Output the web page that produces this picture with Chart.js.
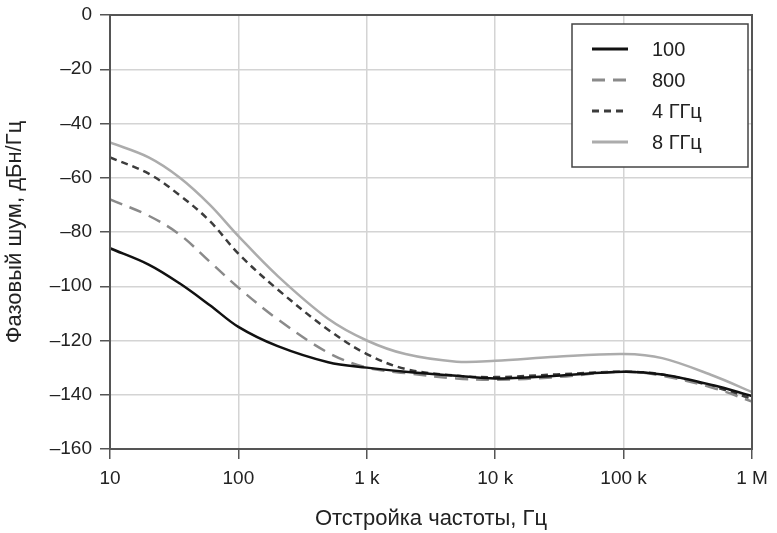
<!DOCTYPE html>
<html>
<head>
<meta charset="utf-8">
<script src="https://cdn.jsdelivr.net/npm/chart.js@4.4.0/dist/chart.umd.min.js"></script>
<style>
html, body { margin: 0; padding: 0; background: #fff; }
</style>
</head>
<body>
<canvas id="noiseChart" width="777" height="533"></canvas>
<script>
// offset frequencies, Hz
var freqs = [10, 20, 35, 60, 100, 200, 500, 1000, 2000, 5000, 10000, 30000, 100000, 200000, 500000, 1000000];
// phase noise, dBc/Hz
var noise100 = [-86, -92, -99, -107, -115, -122, -128, -130, -131.5, -133, -134, -133, -131.5, -132.5, -136.5, -140.5];
var noise800 = [-68, -74, -81, -91, -100.5, -112, -124.5, -130, -132, -134, -134.5, -133.5, -131.5, -133, -137.5, -142.5];
var noise4G = [-52.5, -58.5, -66.5, -76, -88, -101, -116, -125, -130.5, -133, -133.5, -132.5, -131.5, -132.5, -137, -141.5];
var noise8G = [-47, -52.5, -60, -70, -81.5, -96, -112, -120, -125, -127.8, -127.5, -126, -125, -126.5, -133, -139];

var seriesNames = ['100', '800', '4 ГГц', '8 ГГц'];
var xTickValues = [10, 100, 1000, 10000, 100000, 1000000];
var xTickLabels = ['10', '100', '1 k', '10 k', '100 k', '1 M'];

var FONT = '"Liberation Sans", Arial, sans-serif';

function points(vals){
    return freqs.map(function(f, i){ return {x: f, y: vals[i]}; });
}

// frame around the plot area + boxed legend
var framePlugin = {
    id: 'frame',
    afterDraw: function(chart){
        var ctx = chart.ctx, a = chart.chartArea;
        ctx.save();
        ctx.strokeStyle = '#555';
        ctx.lineWidth = 2;
        ctx.strokeRect(a.left, a.top, a.right - a.left, a.bottom - a.top);

        // legend
        var bx = a.right - 180, by = a.top + 9, bw = 176, bh = 143;
        ctx.fillStyle = '#fff';
        ctx.fillRect(bx, by, bw, bh);
        ctx.strokeStyle = '#444';
        ctx.lineWidth = 1.5;
        ctx.strokeRect(bx, by, bw, bh);
        ctx.font = '20px ' + FONT;
        ctx.textBaseline = 'middle';
        chart.data.datasets.forEach(function(ds, i){
            var y = by + 25 + i * 31;
            ctx.beginPath();
            ctx.setLineDash(ds.borderDash || []);
            ctx.strokeStyle = ds.borderColor;
            ctx.lineWidth = 3;
            ctx.moveTo(bx + 20, y);
            ctx.lineTo(bx + 56, y);
            ctx.stroke();
            ctx.setLineDash([]);
            ctx.fillStyle = '#222';
            ctx.fillText(ds.label, bx + 80, y + 1);
        });
        ctx.restore();
    }
};

var ctx = document.getElementById('noiseChart').getContext('2d');
var chart = new Chart(ctx, {
    type: 'line',
    data: {
        datasets: [
            { label: seriesNames[0], data: points(noise100), borderColor: '#111', borderWidth: 2.5 },
            { label: seriesNames[1], data: points(noise800), borderColor: '#8a8a8a', borderWidth: 2.5, borderDash: [13, 8] },
            { label: seriesNames[2], data: points(noise4G), borderColor: '#3c3c3c', borderWidth: 2.5, borderDash: [7, 5] },
            { label: seriesNames[3], data: points(noise8G), borderColor: '#acacac', borderWidth: 2.5 }
        ]
    },
    options: {
        responsive: false,
        animation: false,
        layout: { padding: { top: 15, right: 25, left: 0, bottom: 0 } },
        elements: {
            point: { radius: 0 },
            line: { tension: 0.35, fill: false }
        },
        plugins: {
            legend: { display: false },
            tooltip: { enabled: false }
        },
        scales: {
            x: {
                type: 'logarithmic',
                min: 10,
                max: 1000000,
                afterBuildTicks: function(scale){
                    scale.ticks = xTickValues.map(function(v){ return {value: v}; });
                },
                afterFit: function(scale){ scale.height = 84; },
                ticks: {
                    autoSkip: false,
                    maxRotation: 0,
                    padding: 8,
                    color: '#222',
                    font: { family: FONT, size: 19 },
                    callback: function(v){
                        var i = xTickValues.indexOf(v);
                        return i >= 0 ? xTickLabels[i] : '';
                    }
                },
                grid: { color: '#d4d4d4', lineWidth: 1.5, tickColor: '#555', tickLength: 10 },
                border: { display: false },
                title: {
                    display: true,
                    text: 'Отстройка частоты, Гц',
                    color: '#222',
                    font: { family: FONT, size: 22 },
                    padding: { top: 0, bottom: 1 }
                }
            },
            y: {
                min: -160,
                max: 0,
                afterFit: function(scale){ scale.width = 110; scale.paddingTop = 0; },
                ticks: {
                    stepSize: 20,
                    padding: 8,
                    color: '#222',
                    font: { family: FONT, size: 19, lineHeight: 1 },
                    callback: function(v){ return v < 0 ? '–' + Math.abs(v) : String(v); }
                },
                grid: { color: '#d4d4d4', lineWidth: 1.5, tickColor: '#555', tickLength: 10 },
                border: { display: false },
                title: {
                    display: true,
                    text: 'Фазовый шум, дБн/Гц',
                    color: '#222',
                    font: { family: FONT, size: 22 },
                    padding: { top: 2, bottom: 0 }
                }
            }
        }
    },
    plugins: [framePlugin]
});
</script>
</body>
</html>
